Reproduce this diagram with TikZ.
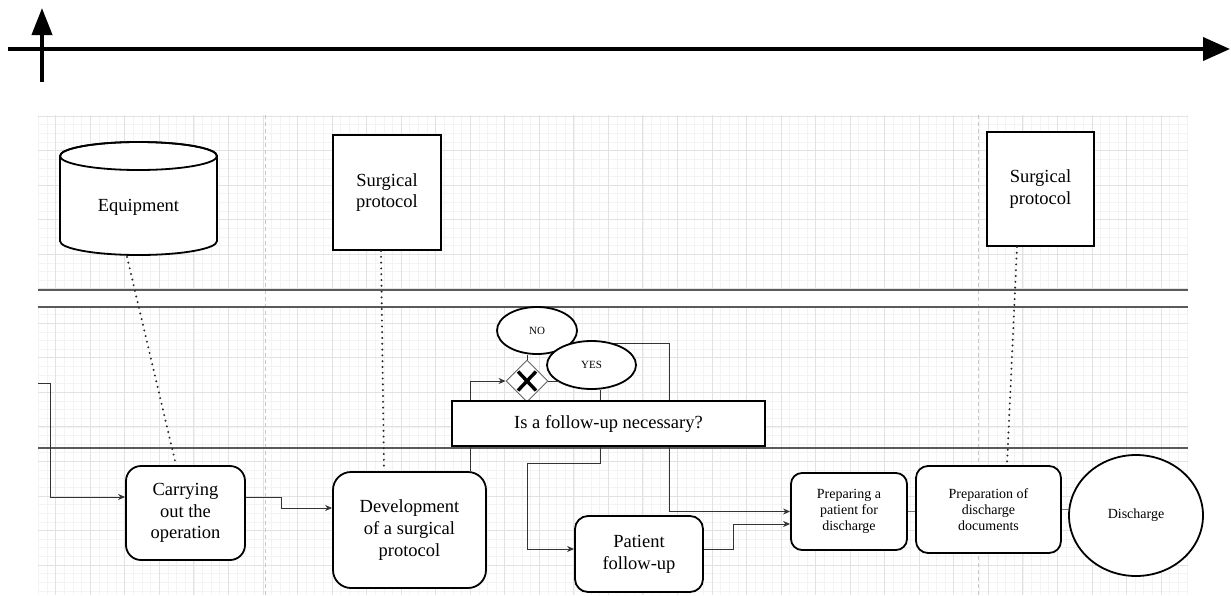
\documentclass[tikz,border=0pt]{standalone}
\usepackage{fontspec}
\setmainfont{Liberation Serif}
\usetikzlibrary{arrows.meta,calc,shapes.geometric}
\definecolor{gridminor}{HTML}{F3F3F3}
\definecolor{gridmajor}{HTML}{E2E2E2}
\definecolor{lanecol}{HTML}{5A5A5A}
\definecolor{conncol}{HTML}{333333}
\definecolor{linkcol}{HTML}{777777}
\definecolor{sepcol}{HTML}{C8C8C8}
\newcommand\fbig{\fontsize{18.5}{21.7}\selectfont}
\newcommand\fsmall{\fontsize{14}{16}\selectfont}
\newcommand\ftiny{\fontsize{11}{13}\selectfont}
\begin{document}
\begin{tikzpicture}[x=1pt,y=-1pt,
  proc/.style={draw=black,line width=1.8pt,fill=white,rounded corners=#1,align=center,inner sep=0pt,font=\fbig},
  docbox/.style={draw=black,line width=2pt,fill=white,align=center,inner sep=0pt,font=\fbig},
  oval/.style={ellipse,draw=black,line width=1.8pt,fill=white,inner sep=0pt},
  conn/.style={draw=conncol,line width=1pt,-{Stealth[length=7pt,width=6pt]}},
  link/.style={draw=linkcol,line width=1pt},
  dots/.style={draw=black!85,line width=2.2pt,dash pattern=on 0pt off 5.8pt,line cap=round},
  lane/.style={draw=lanecol,line width=1.3pt},
  sep/.style={draw=sepcol,line width=1pt,dash pattern=on 4pt off 3pt}]
\useasboundingbox (0,0) rectangle (1231,595);

% grid
\foreach \m in {-2,...,131} \draw[gridminor,line width=0.6pt] ({55.7+8.635*\m},115) -- ({55.7+8.635*\m},595);
\foreach \m in {0,...,55} \draw[gridminor,line width=0.6pt] (38,{116+8.635*\m}) -- (1188,{116+8.635*\m});
\foreach \k in {0,...,32} \draw[gridmajor,line width=0.8pt] ({55.7+34.54*\k},115) -- ({55.7+34.54*\k},595);
\foreach \k in {0,...,13} \draw[gridmajor,line width=0.8pt] (38,{116+34.54*\k}) -- (1188,{116+34.54*\k});
\fill[white] (38,290) rectangle (1188,307);

% separators
\draw[sep] (265,115) -- (265,595);
\draw[sep] (978,115) -- (978,595);

% lanes
\draw[lane] (38,290) -- (1188,290);
\draw[lane] (38,307) -- (1188,307);
\draw[lane] (38,448) -- (1188,448);

% time axis
\coordinate (axL) at (8,49);
\coordinate (axR) at (1230,49);
\coordinate (vB) at (42,82);
\coordinate (vT) at (42,8);
\draw[line width=4pt,-{Triangle[length=27pt,width=23pt]}] (axL) -- (axR);
\draw[line width=4pt,-{Triangle[length=27pt,width=20pt]}] (vB) -- (vT);

% cylinder
\draw[line width=1.8pt,fill=white] (60,156) -- (60,241)
  arc[start angle=180,end angle=360,x radius=78.5pt,y radius=14pt] -- (217,156)
  arc[start angle=0,end angle=180,x radius=78.5pt,y radius=14pt] -- cycle;
\draw[line width=1.8pt] (138.5,156) ellipse [x radius=78.5pt,y radius=14pt];
\node[font=\fbig] (equip) at (138.5,207) {Equipment};
\coordinate (eqb) at (127,257);

% documents
\node[docbox,minimum width=108pt,minimum height=115pt] (sp1) at (387,192.5) {Surgical\\protocol};
\node[docbox,minimum width=107pt,minimum height=114pt] (sp2) at (1040.5,189) {Surgical\\protocol};

% processes
\node[proc=15pt,minimum width=119pt,minimum height=94pt] (carry) at (185.5,513) {Carrying\\out the\\operation};
\node[proc=18pt,minimum width=153pt,minimum height=116pt] (dev) at (409.5,530) {Development\\of a surgical\\protocol};
\node[proc=13pt,minimum width=128pt,minimum height=76pt] (follow) at (639,554) {Patient\\follow-up};
\node[proc=11pt,minimum width=116pt,minimum height=77pt,font=\fsmall] (prep) at (849,511.5) {Preparing a\\patient for\\discharge};
\node[proc=12pt,minimum width=145pt,minimum height=87pt,font=\fsmall] (docs) at (988.5,509.5) {Preparation of\\discharge\\documents};
\node[oval,minimum width=134pt,minimum height=121pt,font=\fsmall] (dis) at (1136,515.5) {Discharge};

% gateway
\node[diamond,draw=black!60,line width=0.9pt,fill=white,minimum width=42pt,minimum height=42pt,inner sep=0pt] (gw) at (527,381) {};
\draw[line width=3.4pt] ([shift={(-9pt,-9.5pt)}]gw.center) -- ([shift={(9pt,9.5pt)}]gw.center);
\draw[line width=3.4pt] ([shift={(-9pt,9.5pt)}]gw.center) -- ([shift={(9pt,-9.5pt)}]gw.center);

% connectors
\coordinate (in) at (38,383);
\draw[conn] (in) -- ++(12,0) |- ([yshift=16pt]carry.west);
\draw[conn] ([yshift=16pt]carry.east) -- ++(36,0) |- ([yshift=22pt]dev.west);
\draw[conn] ([xshift=60.5pt]dev.north) |- (gw.west);

\node[oval,minimum width=80pt,minimum height=47pt,font=\ftiny] (no) at (537,330.5) {NO};
\draw[conn] (no.-20) -- ++(98,0) |- (prep.west);
\draw[link,draw=conncol] (gw.north) -- (gw.north |- no.south);
\node[oval,minimum width=89pt,minimum height=48pt,font=\ftiny] (yes) at (591.5,365) {YES};
\draw[conn] ([xshift=8.5pt]yes.south) -- ++(0,74) -- ++(-73,0) |- ([yshift=5pt]follow.west);
\draw[link,draw=conncol] (gw.east) -- (gw.east -| yes.south west);
\draw[conn] ([yshift=5pt]follow.east) -- ++(30,0) |- ([yshift=-12.5pt]prep.west);
\draw[link] (prep.east) -- (prep.east -| docs.west);
\draw[link] (docs.east) -- (docs.east -| dis.west);

% decision box on top
\node[draw=black,line width=2.2pt,fill=white,minimum width=313pt,minimum height=45pt,inner sep=0pt,font=\fbig] (dec) at (608.5,423.5) {Is a follow-up necessary?};

% dotted associations
\draw[dots] (eqb) -- ([xshift=-9.5pt]carry.north);
\draw[dots] ([xshift=-6pt]sp1.south) -- ([xshift=-25.5pt]dev.north);
\draw[dots] ([xshift=-23.5pt]sp2.south) -- ([xshift=18.5pt]docs.north);
\end{tikzpicture}
\end{document}
